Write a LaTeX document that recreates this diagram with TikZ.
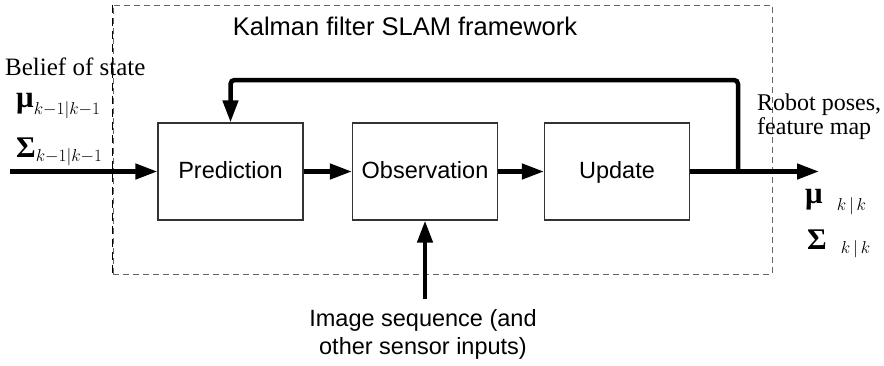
\documentclass[tikz,border=0pt]{standalone}
\usepackage{amsmath}
\usepackage{fontspec}
\setmainfont{Liberation Serif}
\setsansfont{Liberation Sans}
\usetikzlibrary{arrows.meta}
\newcommand{\gmu}{\text{\fontsize{31}{31}\selectfont\bfseries μ}}
\newcommand{\gsig}{\text{\fontsize{30}{30}\selectfont\bfseries Σ}}
\begin{document}
\begin{tikzpicture}[x=1pt,y=-1pt,
  box/.style={draw=black!80, line width=1.2pt, minimum width=145pt, minimum height=97pt,
    inner sep=0pt, text height=17pt, text depth=3pt, font=\sffamily\fontsize{23.5}{27}\selectfont},
  frame/.style={draw=black!60, line width=1pt, dash pattern=on 6pt off 4pt,
    minimum width=659pt, minimum height=269pt, inner sep=0pt},
  flow/.style={line width=4.5pt, -{Triangle[length=22pt,width=15pt]}},
  sanslabel/.style={font=\sffamily\fontsize{23.5}{28}\selectfont, inner sep=0pt},
  seriflabel/.style={font=\fontsize{25}{21}\selectfont, inner sep=0pt},
  rightlabel/.style={font=\fontsize{24}{20}\selectfont, inner sep=0pt},
  mathlabel/.style={font=\fontsize{27}{30}\selectfont, inner sep=0pt}]
\useasboundingbox (0,0) rectangle (884,365);

% dashed framework
\node[frame] (frame) at (442.5,139.5) {};
\draw[black, line width=1.8pt, dash pattern=on 8pt off 5pt] (frame.north west) -- (frame.south west);
\node[font=\sffamily\fontsize{25.5}{30}\selectfont, inner sep=0pt] (title) at (405,26) {Kalman filter SLAM framework};

% blocks
\node[box] (pred) at (230.5,171.5) {Prediction};
\node[box] (obs)  at (425,171.5) {Observation};
\node[box] (upd)  at (617,171.5) {Update};

% free ends
\coordinate (in)    at (10,171.5);
\coordinate (out)   at (819,171.5);
\coordinate (fb)    at (738,171.5);
\coordinate (fbtop) at (738,80);
\coordinate (img)   at (425,299);

% connectors
\draw[flow] (in) -- (pred.west);
\draw[flow] (pred.east) -- (obs.west);
\draw[flow] (obs.east) -- (upd.west);
\draw[flow] (upd.east) -- (out);
\draw[flow, rounded corners=4pt] (fb) -- (fbtop) -| (pred.north);
\draw[flow] (img) -- (obs.south);

% labels
\node[sanslabel, align=center] (imgtxt) at (423,334) {Image sequence (and\\other sensor inputs)};

\node[seriflabel, anchor=base west] (belief) at (5,75) {Belief of state};
\node[mathlabel, anchor=base west] (muin) at (16,107) {$\gmu_{k-1|k-1}$};
\node[mathlabel, anchor=base west] (sigin) at (16,157) {$\gsig_{k-1|k-1}$};

\node[rightlabel, anchor=base west, align=left] (robot) at (757,134) {Robot poses,\\feature map};
\node[mathlabel, anchor=base west] (muout) at (805,203) {$\gmu_{\hspace{14pt}k\,|\,k}$};
\node[mathlabel, anchor=base west] (sigout) at (807,249) {$\gsig_{\hspace{14pt}k\,|\,k}$};
\end{tikzpicture}
\end{document}
